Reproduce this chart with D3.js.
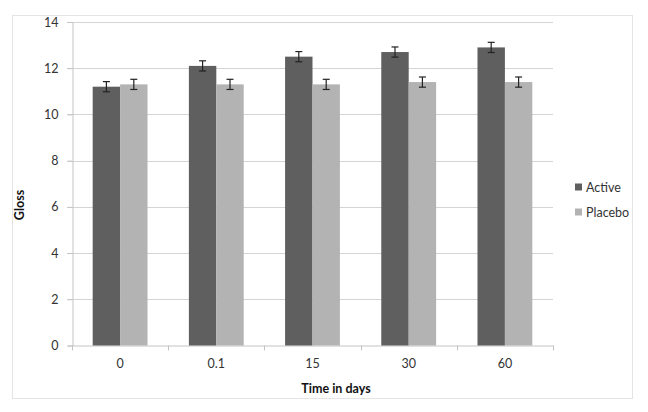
<!DOCTYPE html>
<html><head><meta charset="utf-8">
<script src="https://cdn.jsdelivr.net/npm/d3@7"></script>
<style>body{margin:0;background:#fff;} text{font-family:Lato,"Open Sans",sans-serif;}</style>
</head><body><svg id="c" width="648" height="412"></svg>
<script>
const categories = ["0","0.1","15","30","60"];
const seriesNames = ["Active","Placebo"];
const activeValues = [11.2,12.1,12.5,12.7,12.9];
const placeboValues = [11.3,11.3,11.3,11.4,11.4];
const activeErrors = [0.22,0.22,0.22,0.22,0.22];
const placeboErrors = [0.22,0.22,0.22,0.22,0.22];
const yTicks = [0,2,4,6,8,10,12,14];
const colors = ["#5f5f5f","#b3b3b3"];

const svg = d3.select("#c");
svg.append("rect").attr("x",12.5).attr("y",15.5).attr("width",620).attr("height",383)
  .attr("fill","#fff").attr("stroke","#e4e4e4");

const L=72, R=553, T=22, B=345.5;
const x = d3.scaleBand().domain(categories).range([L,R]).paddingInner(0.43).paddingOuter(0.215);
const xs = d3.scaleBand().domain(seriesNames).range([0,x.bandwidth()]);
const y = d3.scaleLinear().domain([0,14]).range([B,T]);

// gridlines
svg.append("g").selectAll("line").data(yTicks.filter(d=>d>0)).join("line")
  .attr("x1",L-5).attr("x2",R).attr("y1",d=>Math.round(y(d))+0.5).attr("y2",d=>Math.round(y(d))+0.5)
  .attr("stroke","#d4d4d4");

// y axis
const ya = svg.append("g").attr("transform",`translate(${L+0.5},0)`)
  .call(d3.axisLeft(y).tickValues(yTicks).tickSize(5).tickPadding(9));
ya.select(".domain").attr("stroke","#c4c4c4");
ya.selectAll(".tick line").attr("stroke","#c4c4c4");
ya.selectAll("text").attr("font-size",12.5).attr("fill","#333").attr("font-family","Lato,sans-serif");

// x axis
const xa = svg.append("g").attr("transform",`translate(0,${B})`)
  .call(d3.axisBottom(x).tickSize(0).tickPadding(14));
xa.select(".domain").attr("stroke","#c4c4c4");
xa.selectAll("text").attr("font-size",12.5).attr("fill","#333").attr("font-family","Lato,sans-serif");
const bounds = d3.range(categories.length+1).map(i=>L + i*(R-L)/categories.length);
svg.append("g").selectAll("line").data(bounds).join("line")
  .attr("x1",d=>Math.round(d)+0.5).attr("x2",d=>Math.round(d)+0.5).attr("y1",B).attr("y2",B+5)
  .attr("stroke","#c4c4c4");

const data = categories.map((c,i)=>({c, vals:[
  {s:"Active", v:activeValues[i], e:activeErrors[i]},
  {s:"Placebo", v:placeboValues[i], e:placeboErrors[i]}]}));

const g = svg.append("g").selectAll("g").data(data).join("g")
  .attr("transform",d=>`translate(${x(d.c)},0)`);
g.selectAll("rect").data(d=>d.vals).join("rect")
  .attr("x",d=>xs(d.s)).attr("width",xs.bandwidth())
  .attr("y",d=>y(d.v)).attr("height",d=>B-y(d.v))
  .attr("fill",(d,i)=>colors[i]);
const eb = g.selectAll("g.eb").data(d=>d.vals).join("g").attr("class","eb");
eb.append("line").attr("x1",d=>xs(d.s)+xs.bandwidth()/2).attr("x2",d=>xs(d.s)+xs.bandwidth()/2)
  .attr("y1",d=>y(d.v+d.e)).attr("y2",d=>y(d.v-d.e)).attr("stroke","#222").attr("stroke-width",1.2);
eb.selectAll("line.cap").data(d=>[{d,v:d.v+d.e},{d,v:d.v-d.e}]).join("line").attr("class","cap")
  .attr("x1",o=>xs(o.d.s)+xs.bandwidth()/2-3.5).attr("x2",o=>xs(o.d.s)+xs.bandwidth()/2+3.5)
  .attr("y1",o=>y(o.v)).attr("y2",o=>y(o.v)).attr("stroke","#222").attr("stroke-width",1.2);

// axis titles
svg.append("text").attr("x",336).attr("y",393).attr("text-anchor","middle")
  .attr("font-size",12.5).attr("font-weight","bold").attr("fill","#111").text("Time in days");
svg.append("text").attr("transform","translate(24,205) rotate(-90)").attr("text-anchor","middle")
  .attr("font-size",12.5).attr("font-weight","bold").attr("fill","#111").text("Gloss");

// legend
const lg = svg.append("g").selectAll("g").data(seriesNames).join("g")
  .attr("transform",(d,i)=>`translate(575,${187+i*25})`);
lg.append("rect").attr("x",0).attr("y",-3.5).attr("width",7).attr("height",7).attr("fill",(d,i)=>colors[i]);
lg.append("text").attr("x",11).attr("y",4.5).attr("font-size",12.5).attr("fill","#333").text(d=>d);
</script></body></html>
